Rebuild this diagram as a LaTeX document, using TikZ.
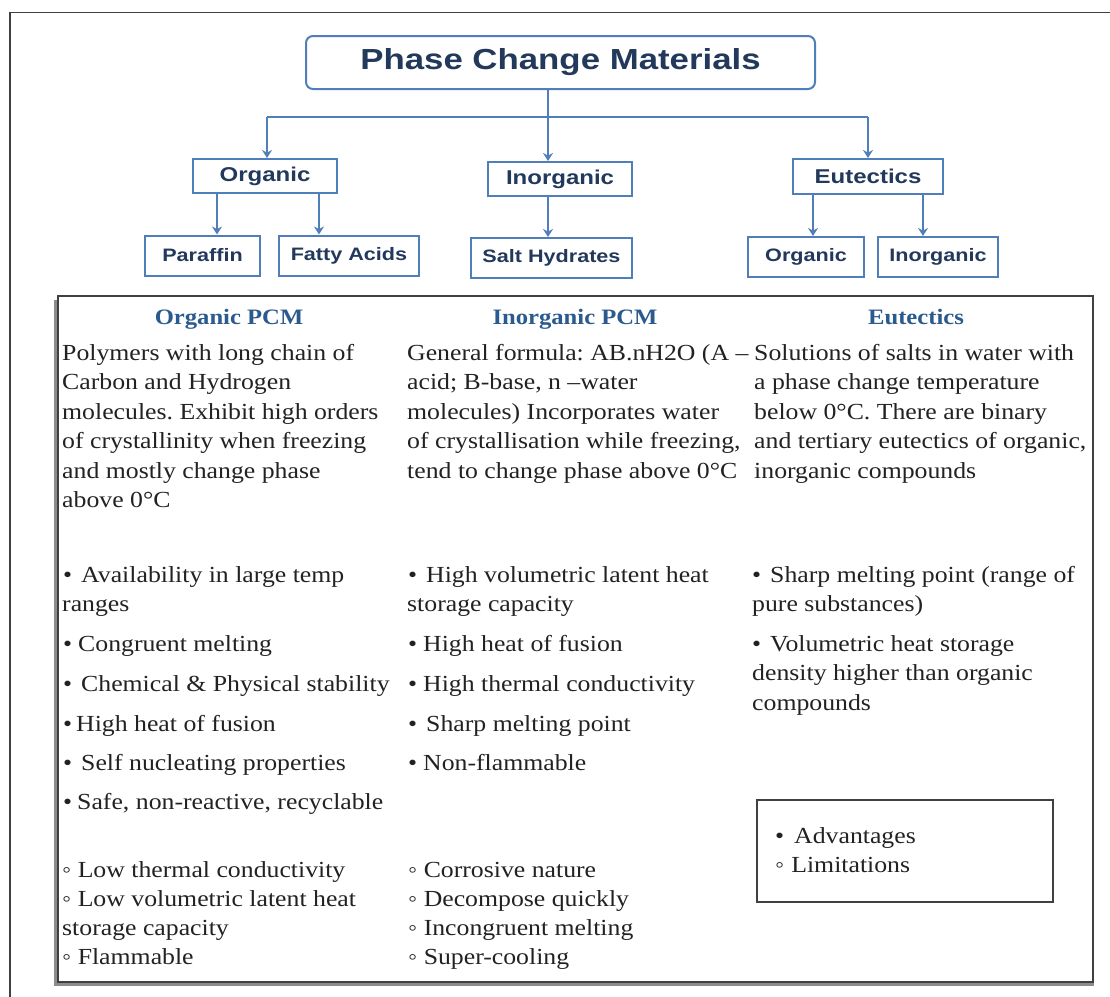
\documentclass[tikz,border=0pt]{standalone}
\usepackage{fontspec}
\usetikzlibrary{arrows.meta,calc}
\newfontfamily\serifB[FakeStretch=1.12]{Liberation Serif}
\newfontfamily\sansB[FakeStretch=1.2]{Liberation Sans}
\definecolor{boxblue}{HTML}{4F7EBB}
\definecolor{navy}{HTML}{22395C}
\definecolor{headblue}{HTML}{2B5B8E}
\definecolor{bodyc}{HTML}{222222}
\definecolor{framec}{HTML}{404040}
\frenchspacing
\begin{document}
\begin{tikzpicture}[x=1pt,y=-1pt,
  cbox/.style={draw=boxblue, line width=2pt, fill=white, inner sep=0pt,
    font=\sansB\bfseries\fontsize{20}{22}\selectfont, text=navy},
  leaf/.style={cbox, font=\sansB\bfseries\fontsize{18}{20}\selectfont},
  link/.style={draw=boxblue, line width=2.6pt},
  arr/.style={link, -{Stealth[width=10pt,length=8pt]}},
  txt/.style={anchor=base west, inner sep=0pt, font=\serifB\fontsize{23}{27}\selectfont, text=bodyc},
  hd/.style={anchor=base, inner sep=0pt, font=\serifB\bfseries\fontsize{22}{26}\selectfont, text=headblue},
]
\useasboundingbox (0,0) rectangle (1110,996);
% outer frame
\draw[framec, line width=1.3pt] (10,1000) -- (10,12.7) -- (1115,12.7);

% ---------- top tree ----------
\node[cbox, rounded corners=7pt, minimum width=509pt, minimum height=53pt,
  font=\sansB\bfseries\fontsize{29}{32}\selectfont] (pcm) at (560.5,62.5) {Phase Change Materials};
\node[cbox, minimum width=144pt, minimum height=34pt] (org) at (265,176) {Organic};
\node[cbox, minimum width=144pt, minimum height=34pt] (inorg) at (560,179) {Inorganic};
\node[cbox, minimum width=150pt, minimum height=35pt] (eut) at (868,176.5) {Eutectics};
\node[leaf, minimum width=115pt, minimum height=40pt] (par) at (202.5,255.5) {Paraffin};
\node[leaf, minimum width=140pt, minimum height=40pt] (fat) at (349,255.5) {Fatty Acids};
\node[leaf, minimum width=161pt, minimum height=40pt] (salt) at (551.5,258) {Salt Hydrates};
\node[leaf, minimum width=116pt, minimum height=40pt] (eorg) at (806,257) {Organic};
\node[leaf, minimum width=120pt, minimum height=40pt] (einorg) at (938,257) {Inorganic};

\coordinate (stem) at (548,117);
\coordinate (bl) at (267,117);
\coordinate (br) at (868,117);
\draw[link] (stem |- pcm.south) -- (stem);
\draw[link] (bl) -- (br);
\draw[arr] (bl) -- (bl |- org.north);
\draw[arr] (stem) -- (stem |- inorg.north);
\draw[arr] (br) -- (br |- eut.north);

\coordinate (x1) at (217,0);
\coordinate (x2) at (319,0);
\coordinate (x3) at (813,0);
\coordinate (x4) at (923,0);
\draw[arr] (x1 |- org.south) -- (x1 |- par.north);
\draw[arr] (x2 |- org.south) -- (x2 |- fat.north);
\draw[arr] (stem |- inorg.south) -- (stem |- salt.north);
\draw[arr] (x3 |- eut.south) -- (x3 |- eorg.north);
\draw[arr] (x4 |- eut.south) -- (x4 |- einorg.north);

% ---------- table ----------
\fill[black!45] (54,300) rectangle (1094,986);
\draw[framec, line width=1.6pt, fill=white] (58,296) rectangle (1093,982);

\node[hd] (h1) at (229,324) {Organic PCM};
\node[hd] (h2) at (575,324) {Inorganic PCM};
\node[hd] (h3) at (916,324) {Eutectics};

% column 1
\node[txt] (a1) at (62,360) {Polymers with long chain of};
\node[txt] (a2) at (62,389.5) {Carbon and Hydrogen};
\node[txt] (a3) at (62,419) {molecules. Exhibit high orders};
\node[txt] (a4) at (62,448.5) {of crystallinity when freezing};
\node[txt] (a5) at (62,478) {and mostly change phase};
\node[txt] (a6) at (62,507.5) {above 0°C};

\node[txt] (b1) at (63,582) {•\hspace{9pt}Availability in large temp};
\node[txt] (b2) at (62,611) {ranges};
\node[txt] (b3) at (63,651) {•\hspace{6pt}Congruent melting};
\node[txt] (b4) at (63,691) {•\hspace{9pt}Chemical \& Physical stability};
\node[txt] (b5) at (63,731) {•\hspace{4pt}High heat of fusion};
\node[txt] (b6) at (63,770) {•\hspace{9pt}Self nucleating properties};
\node[txt] (b7) at (63,809) {•\hspace{5pt}Safe, non-reactive, recyclable};

\node[txt] (l1) at (62,877) {◦ Low thermal conductivity};
\node[txt] (l2) at (62,906) {◦ Low volumetric latent heat};
\node[txt] (l3) at (62,935) {storage capacity};
\node[txt] (l4) at (62,964) {◦ Flammable};

% column 2
\node[txt] (c1) at (407,360) {General formula: AB.nH2O (A –};
\node[txt] (c2) at (407,389.5) {acid; B-base, n –water};
\node[txt] (c3) at (407,419) {molecules) Incorporates water};
\node[txt] (c4) at (407,448.5) {of crystallisation while freezing,};
\node[txt] (c5) at (407,478) {tend to change phase above 0°C};

\node[txt] (d1) at (408,582) {•\hspace{9pt}High volumetric latent heat};
\node[txt] (d2) at (407,611) {storage capacity};
\node[txt] (d3) at (408,651) {•\hspace{6pt}High heat of fusion};
\node[txt] (d4) at (408,691) {•\hspace{6pt}High thermal conductivity};
\node[txt] (d5) at (408,731) {•\hspace{9pt}Sharp melting point};
\node[txt] (d6) at (408,770) {•\hspace{6pt}Non-flammable};

\node[txt] (m1) at (408,877) {◦ Corrosive nature};
\node[txt] (m2) at (408,906) {◦ Decompose quickly};
\node[txt] (m3) at (408,935) {◦ Incongruent melting};
\node[txt] (m4) at (408,964) {◦ Super-cooling};

% column 3
\node[txt] (e1) at (754,360) {Solutions of salts in water with};
\node[txt] (e2) at (754,389.5) {a phase change temperature};
\node[txt] (e3) at (754,419) {below 0°C. There are binary};
\node[txt] (e4) at (754,448.5) {and tertiary eutectics of organic,};
\node[txt] (e5) at (754,478) {inorganic compounds};

\node[txt] (f1) at (752,582) {•\hspace{9pt}Sharp melting point (range of};
\node[txt] (f2) at (752,611) {pure substances)};
\node[txt] (f3) at (752,651) {•\hspace{9pt}Volumetric heat storage};
\node[txt] (f4) at (752,680.5) {density higher than organic};
\node[txt] (f5) at (752,710) {compounds};

% legend
\draw[framec, line width=2pt] (757,800) rectangle (1053,902);
\node[txt] (g1) at (775,843) {•\hspace{10pt}Advantages};
\node[txt] (g2) at (775,872) {◦\hspace{7pt}Limitations};
\end{tikzpicture}
\end{document}
